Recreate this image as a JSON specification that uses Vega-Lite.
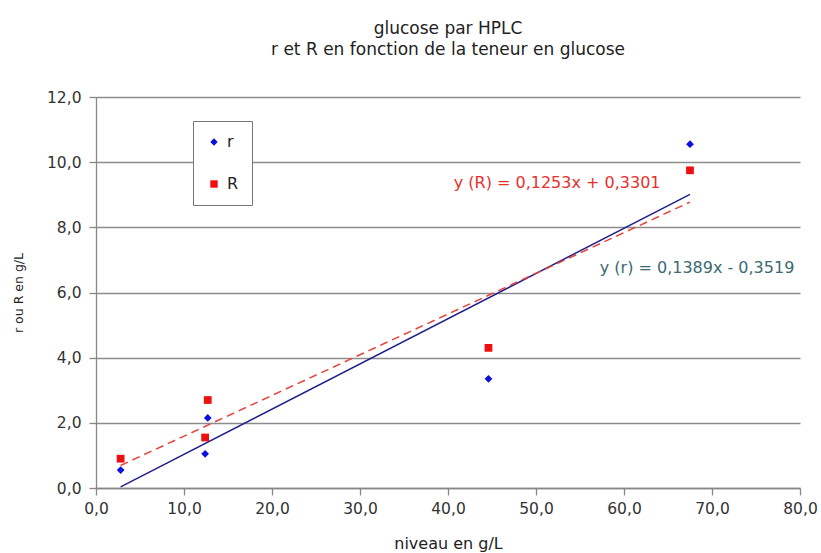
{
  "$schema": "https://vega.github.io/schema/vega-lite/v6.json",
  "width": 704,
  "height": 391,
  "autosize": {"type": "none"},
  "padding": {"left": 96, "top": 97, "right": 21, "bottom": 65},
  "background": "white",
  "title": {
    "text": ["glucose par HPLC", "r et R en fonction de la teneur en glucose"],
    "font": "DejaVu Sans",
    "fontSize": 17,
    "fontWeight": "normal",
    "color": "#222222",
    "anchor": "middle",
    "lineHeight": 21,
    "offset": 31
  },
  "config": {
    "view": {"stroke": null},
    "font": "DejaVu Sans",
    "axis": {
      "labelFont": "DejaVu Sans",
      "labelFontSize": 15.5,
      "labelColor": "#333333",
      "titleFont": "DejaVu Sans",
      "titleFontWeight": "normal",
      "titleColor": "#222222",
      "domainColor": "#888888",
      "tickColor": "#888888",
      "gridColor": "#8c8c8c",
      "gridWidth": 1.3,
      "domainWidth": 1.3,
      "tickWidth": 1.3,
      "labelFlush": false
    }
  },
  "datasets": {
    "points": [
      {"niveau": 2.8, "valeur": 0.55, "serie": "r"},
      {"niveau": 2.8, "valeur": 0.9, "serie": "R"},
      {"niveau": 12.4, "valeur": 1.05, "serie": "r"},
      {"niveau": 12.4, "valeur": 1.55, "serie": "R"},
      {"niveau": 12.7, "valeur": 2.15, "serie": "r"},
      {"niveau": 12.7, "valeur": 2.7, "serie": "R"},
      {"niveau": 44.6, "valeur": 3.35, "serie": "r"},
      {"niveau": 44.6, "valeur": 4.3, "serie": "R"},
      {"niveau": 67.5, "valeur": 10.55, "serie": "r"},
      {"niveau": 67.5, "valeur": 9.75, "serie": "R"}
    ],
    "labels": [
      {"niveau": 52.4, "valeur": 9.36, "serie": "R", "texte": "y (R) = 0,1253x + 0,3301"},
      {"niveau": 68.3, "valeur": 6.75, "serie": "r", "texte": "y (r) = 0,1389x - 0,3519"}
    ]
  },
  "layer": [
    {
      "data": {"name": "points"},
      "transform": [
        {"filter": "datum.serie === 'r'"},
        {"regression": "valeur", "on": "niveau", "extent": [2.8, 67.5]}
      ],
      "mark": {"type": "line", "color": "#1f1f8c", "strokeWidth": 1.5},
      "encoding": {
        "x": {"field": "niveau", "type": "quantitative"},
        "y": {"field": "valeur", "type": "quantitative"}
      }
    },
    {
      "data": {"name": "points"},
      "transform": [
        {"filter": "datum.serie === 'R'"},
        {"regression": "valeur", "on": "niveau", "extent": [2.8, 67.5]}
      ],
      "mark": {"type": "line", "color": "#e8403a", "strokeWidth": 1.5, "strokeDash": [8, 5]},
      "encoding": {
        "x": {"field": "niveau", "type": "quantitative"},
        "y": {"field": "valeur", "type": "quantitative"}
      }
    },
    {
      "data": {"name": "points"},
      "mark": {"type": "point", "filled": true, "opacity": 1, "size": 60},
      "encoding": {
        "x": {
          "field": "niveau",
          "type": "quantitative",
          "scale": {"domain": [0, 80], "nice": false},
          "axis": {
            "title": "niveau en g/L",
            "titleFontSize": 16,
            "values": [0, 10, 20, 30, 40, 50, 60, 70, 80],
            "grid": false,
            "labelExpr": "replace(format(datum.value, '.1f'), '.', ',')",
            "tickSize": 7,
            "labelPadding": 6,
            "titlePadding": 19
          }
        },
        "y": {
          "field": "valeur",
          "type": "quantitative",
          "scale": {"domain": [0, 12], "nice": false},
          "axis": {
            "title": "r ou R en g/L",
            "titleFontSize": 12.5,
            "values": [0, 2, 4, 6, 8, 10, 12],
            "grid": true,
            "labelExpr": "replace(format(datum.value, '.1f'), '.', ',')",
            "tickSize": 7,
            "labelPadding": 8,
            "titlePadding": 21
          }
        },
        "color": {
          "field": "serie",
          "type": "nominal",
          "scale": {"domain": ["r", "R"], "range": ["#0a10e0", "#ee1010"]},
          "legend": {
            "title": null,
            "orient": "none",
            "legendX": 97,
            "legendY": 24,
            "strokeColor": "#777777",
            "fillColor": "white",
            "padding": 13,
            "rowPadding": 26,
            "labelFontSize": 16,
            "labelFont": "DejaVu Sans",
            "labelColor": "#222222",
            "labelOffset": 5,
            "symbolSize": 55
          }
        },
        "shape": {
          "field": "serie",
          "type": "nominal",
          "scale": {"domain": ["r", "R"], "range": ["diamond", "square"]}
        }
      }
    },
    {
      "data": {"name": "labels"},
      "transform": [{"filter": "datum.serie === 'R'"}],
      "mark": {"type": "text", "fontSize": 16, "font": "DejaVu Sans", "color": "#e8302c"},
      "encoding": {
        "x": {"field": "niveau", "type": "quantitative"},
        "y": {"field": "valeur", "type": "quantitative"},
        "text": {"field": "texte"}
      }
    },
    {
      "data": {"name": "labels"},
      "transform": [{"filter": "datum.serie === 'r'"}],
      "mark": {"type": "text", "fontSize": 16, "font": "DejaVu Sans", "color": "#3b6a72"},
      "encoding": {
        "x": {"field": "niveau", "type": "quantitative"},
        "y": {"field": "valeur", "type": "quantitative"},
        "text": {"field": "texte"}
      }
    }
  ]
}
